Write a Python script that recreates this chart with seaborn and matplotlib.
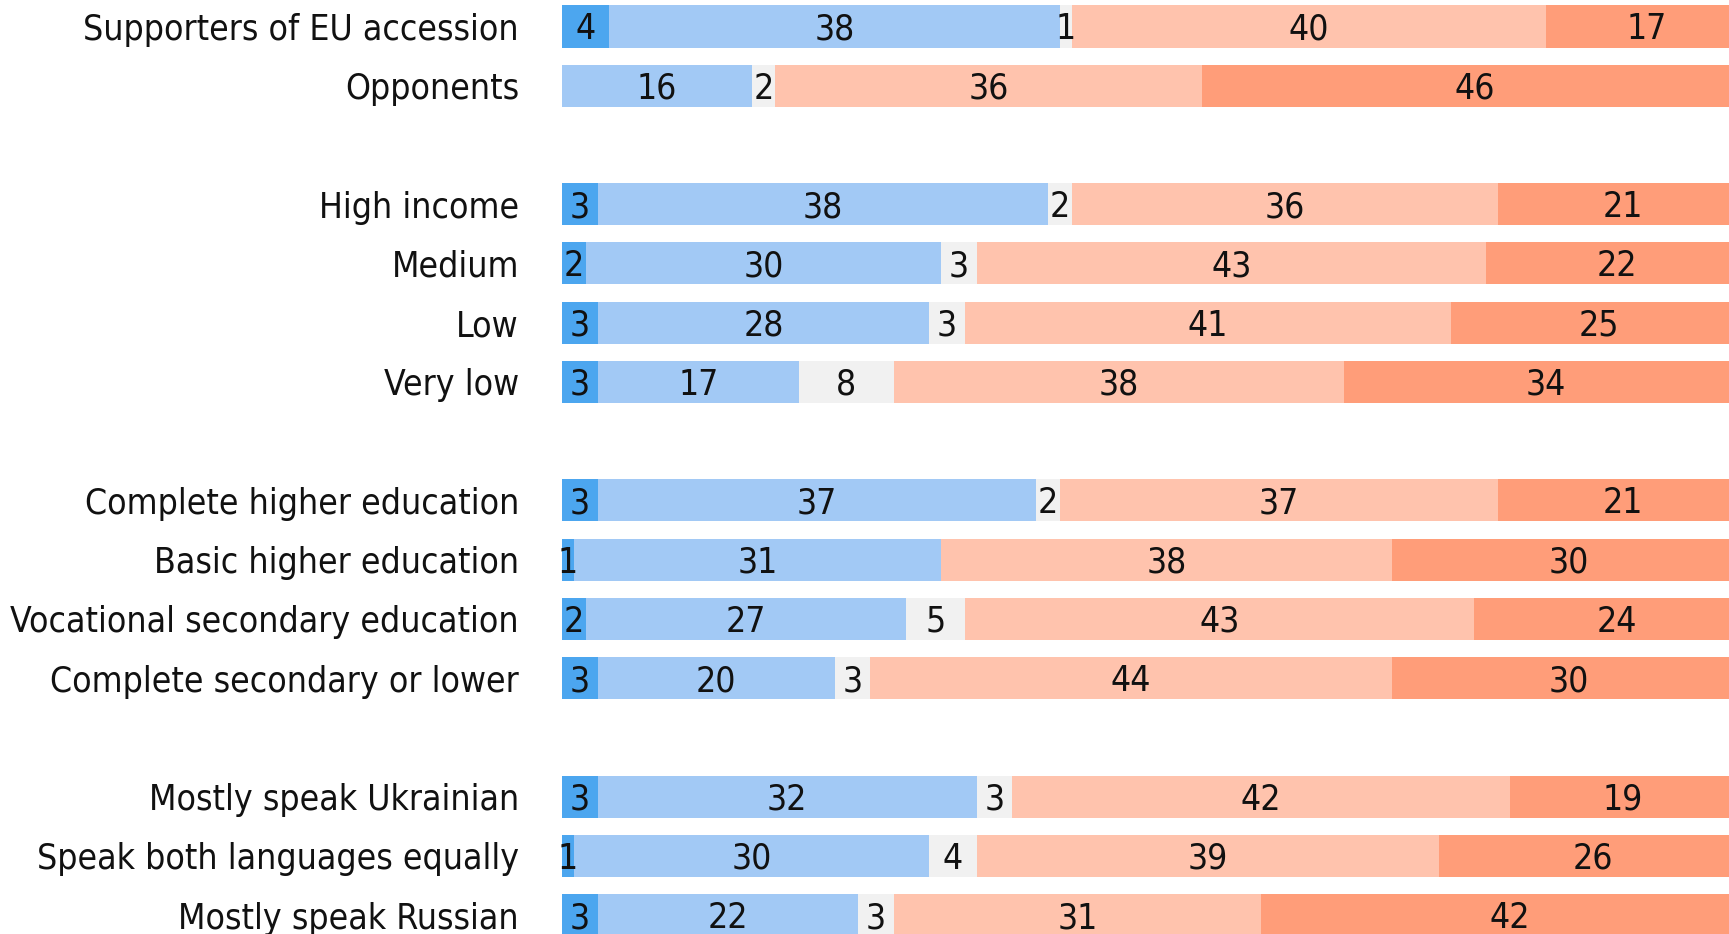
import numpy as np
import pandas as pd
import matplotlib
matplotlib.use("Agg")
import matplotlib.pyplot as plt
import seaborn as sns

# Row labels, top to bottom; None marks a spacer slot between groups
rows = [
    "Supporters of EU accession", "Opponents", None,
    "High income", "Medium", "Low", "Very low", None,
    "Complete higher education", "Basic higher education",
    "Vocational secondary education", "Complete secondary or lower", None,
    "Mostly speak Ukrainian", "Speak both languages equally", "Mostly speak Russian",
]

# Answer shares (%) for each non-spacer row, in the order of the rows above
strong_yes = [4, 0, 3, 2, 3, 3, 3, 1, 2, 3, 3, 1, 3]
rather_yes = [38, 16, 38, 30, 28, 17, 37, 31, 27, 20, 32, 30, 22]
hard_to_say = [1, 2, 2, 3, 3, 8, 2, 0, 5, 3, 3, 4, 3]
rather_no = [40, 36, 36, 43, 41, 38, 37, 38, 43, 44, 42, 39, 31]
strong_no = [17, 46, 21, 22, 25, 34, 21, 30, 24, 30, 19, 26, 42]

series = [strong_yes, rather_yes, hard_to_say, rather_no, strong_no]
colors = ["#4ca6ef", "#a2c9f5", "#f1f1f1", "#ffc3ad", "#ff9d79"]

labels = [r for r in rows if r is not None]
slots = [i for i, r in enumerate(rows) if r is not None]

vals = np.array(series, dtype=float)
cum = np.cumsum(vals, axis=0)
starts = cum - vals

sns.set_theme(style="white")
plt.rcParams["font.family"] = ["DejaVu Sans"]
plt.rcParams["font.stretch"] = "condensed"

FS = 25.5

fig = plt.figure(figsize=(17.29, 9.34), dpi=100)
left = 562 / 1729
ax = fig.add_axes([left, 0, 1 - left, 1])

# Stacked bars: draw the cumulative totals from the outermost segment inwards
for k in range(len(series) - 1, -1, -1):
    df = pd.DataFrame({"slot": slots, "end": cum[k]})
    sns.barplot(data=df, x="end", y="slot", orient="h", native_scale=True,
                color=colors[k], saturation=1, width=0.71, ax=ax,
                linewidth=0, edgecolor="none")

# Value labels centred in each segment
for k in range(len(series)):
    for j, s in enumerate(slots):
        v = vals[k, j]
        if v <= 0:
            continue
        ax.text(starts[k, j] + v / 2, s + 0.05, f"{int(v)}", ha="center", va="center",
                fontsize=FS, color="#111111", stretch="condensed")

ax.set_xlim(0, (1729 - 562) / 11.85)
ax.set_ylim(15.32, -0.447)
ax.set_yticks(slots)
ax.set_yticklabels(labels, fontsize=FS, color="#111111", stretch="condensed")
ax.tick_params(axis="y", length=0, pad=31)
ax.set_xticks([])
ax.set_xlabel("")
ax.set_ylabel("")
for sp in ax.spines.values():
    sp.set_visible(False)

fig.savefig("out.png", dpi=100)
